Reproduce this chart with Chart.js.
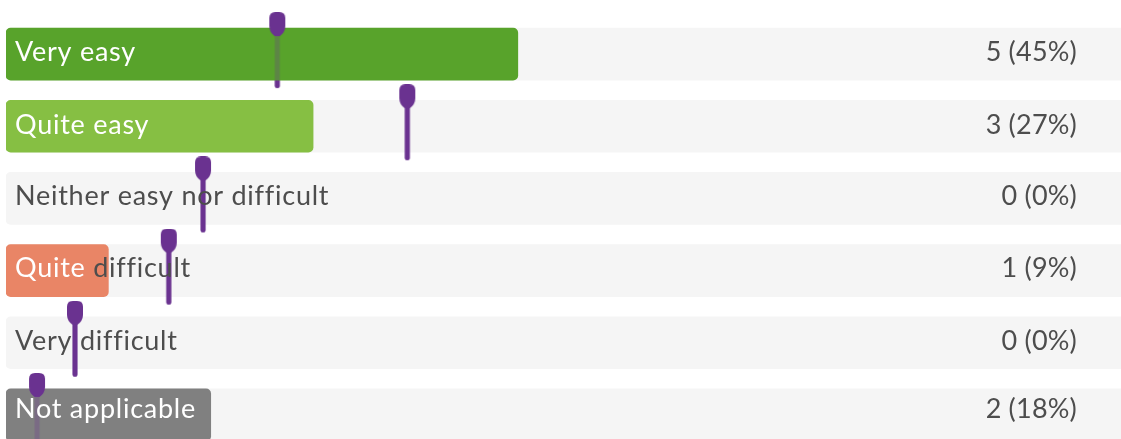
<!DOCTYPE html>
<html>
<head>
<meta charset="utf-8">
<script src="https://cdn.jsdelivr.net/npm/chart.js@4"></script>
<style>
  html, body { margin: 0; padding: 0; background: #fff; overflow: hidden; }
  #wrap { width: 1121px; height: 439px; overflow: hidden; }
  canvas { display: block; }
</style>
</head>
<body>
<div id="wrap"><canvas id="answers" width="1140" height="460"></canvas></div>
<script>
const categories = ['Very easy', 'Quite easy', 'Neither easy nor difficult', 'Quite difficult', 'Very difficult', 'Not applicable'];
const counts = [5, 3, 0, 1, 0, 2];
const percents = [45, 27, 0, 9, 0, 18];
const markers = [2.65, 3.92, 1.925, 1.59, 0.674, 0.303];
const total = [11, 11, 11, 11, 11, 11];
const barColors = ['#58a32b', '#86bf43', 'transparent', '#e98566', 'transparent', '#808080'];

const purple = '#6a3290';
const font = '27px Lato';
const textShift = [-2, -1, -2, -2, -1, -6];

// marker pictures, centre of the image is the middle of the row
function markerImage(part, alpha) {
  const c = document.createElement('canvas');
  c.width = 18;
  c.height = 84;
  const g = c.getContext('2d');
  g.globalAlpha = alpha;
  g.fillStyle = purple;
  g.beginPath();
  if (part === 'head') {
    g.moveTo(1, 6);
    g.quadraticCurveTo(1, 0, 7, 0);
    g.lineTo(11, 0);
    g.quadraticCurveTo(17, 0, 17, 6);
    g.lineTo(17, 14);
    g.quadraticCurveTo(17, 20, 11.5, 24);
    g.lineTo(6.5, 24);
    g.quadraticCurveTo(1, 20, 1, 14);
  } else {
    g.roundRect(6.5, 22, 5, 54, 2.5);
  }
  g.fill();
  return c;
}

function markerSet(image, order) {
  return {
    type: 'line',
    data: markers,
    showLine: false,
    pointStyle: image,
    pointRadius: 3,
    clip: false,
    order: order,
  };
}

const rowLabels = {
  id: 'rowLabels',
  afterDatasetsDraw(chart) {
    const { ctx, scales } = chart;
    ctx.save();
    ctx.font = font;
    ctx.textBaseline = 'middle';
    categories.forEach((name, i) => {
      const y = scales.y.getPixelForValue(i) + textShift[i];
      const barEnd = scales.x.getPixelForValue(counts[i]);
      let x = 15;
      ctx.textAlign = 'left';
      ctx.letterSpacing = '0.75px';
      // a word stays white only while it fits inside the bar
      let inside = counts[i] > 0;
      name.split(' ').forEach((word, w, words) => {
        const piece = w < words.length - 1 ? word + ' ' : word;
        if (x + ctx.measureText(word).width > barEnd) inside = false;
        ctx.fillStyle = inside ? '#ffffff' : '#4d4d4d';
        ctx.fillText(piece, x, y);
        x += ctx.measureText(piece).width;
      });
      ctx.textAlign = 'right';
      ctx.letterSpacing = '0.2px';
      ctx.fillStyle = '#4d4d4d';
      ctx.fillText(counts[i] + ' (' + percents[i] + '%)', 1077, y);
    });
    ctx.restore();
  },
};

new Chart(document.getElementById('answers'), {
  type: 'bar',
  data: {
    labels: categories,
    datasets: [
      { data: total, backgroundColor: '#f5f5f5', borderRadius: 5, borderSkipped: false, barThickness: 52, grouped: false, order: 5 },
      markerSet(markerImage('stem', 1), 4),
      { data: counts, backgroundColor: barColors, borderRadius: 5, borderSkipped: false, barThickness: 52, grouped: false, order: 3 },
      markerSet(markerImage('stem', 0.27), 2),
      markerSet(markerImage('head', 1), 1),
    ],
  },
  options: {
    indexAxis: 'y',
    responsive: false,
    animation: false,
    layout: { padding: { left: 6, right: 8, top: 18, bottom: 9 } },
    scales: {
      x: { type: 'linear', min: 0, max: 11, display: false },
      y: { type: 'category', offset: true, display: false },
    },
    plugins: {
      legend: { display: false },
      tooltip: { enabled: false },
    },
  },
  plugins: [rowLabels],
});
</script>
</body>
</html>
